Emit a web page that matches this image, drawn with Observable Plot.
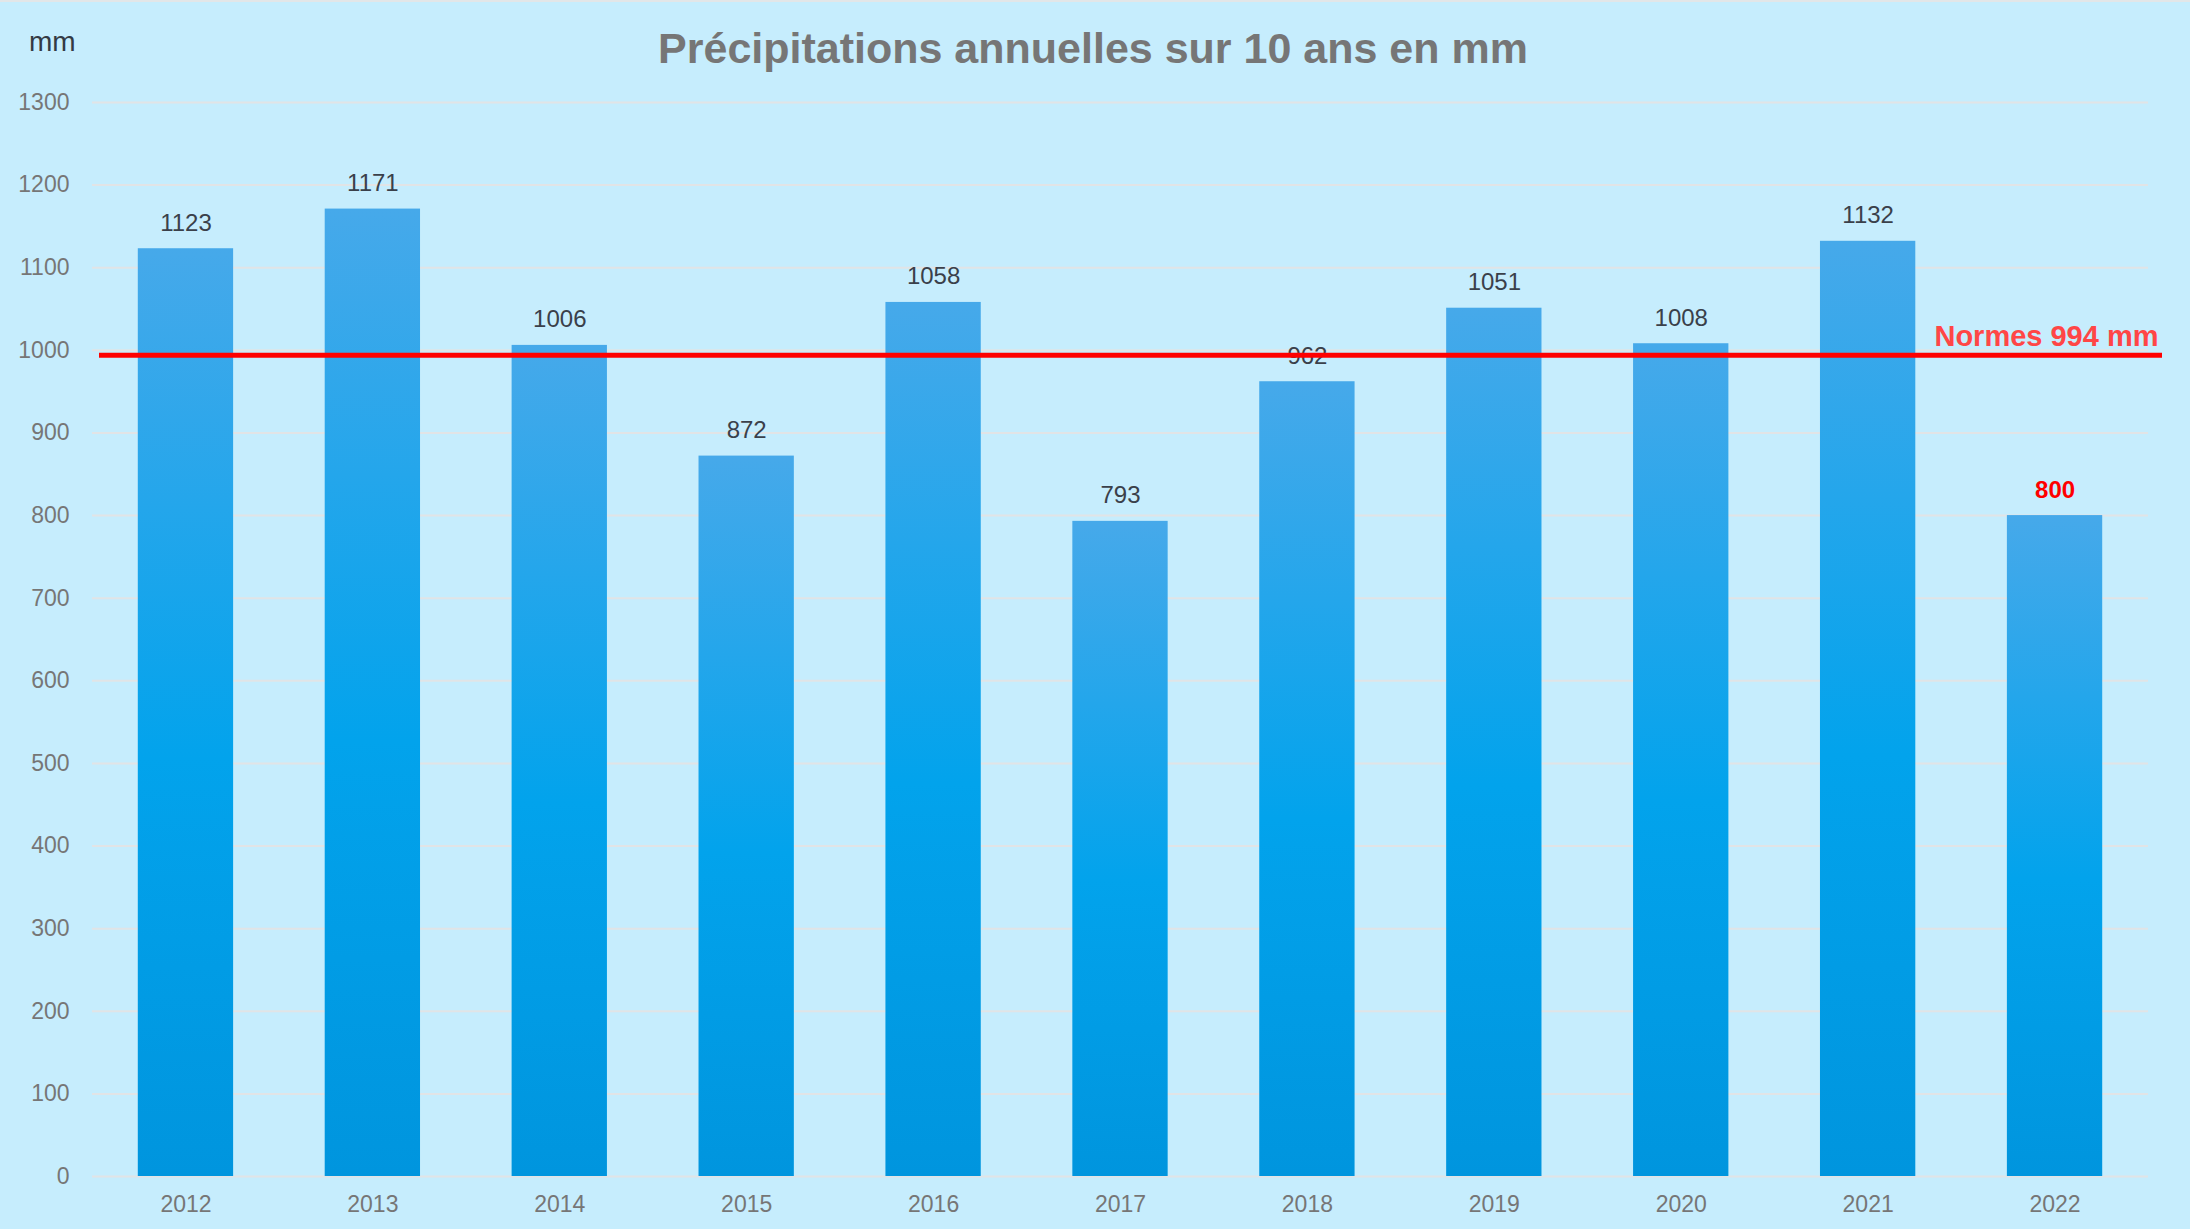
<!DOCTYPE html>
<html>
<head>
<meta charset="utf-8">
<script src="https://cdn.jsdelivr.net/npm/d3@7"></script>
<script src="https://cdn.jsdelivr.net/npm/@observablehq/plot@0.6"></script>
<style>
  html, body { margin: 0; padding: 0; background: #c6edfd; }
  #wrap { position: relative; width: 2190px; height: 1229px; background: #c6edfd; border-top: 2px solid #e2e6e8; box-sizing: border-box; overflow: hidden; font-family: "Liberation Sans", Arial, sans-serif; }
  #head { position: relative; height: 78px; }
  #title { position: absolute; left: 0; right: 0; top: 25px; text-align: center; padding-right: 4px; font-size: 43px; font-weight: bold; color: #767676; line-height: 1; }
  #unit { position: absolute; left: 29px; top: 26px; font-size: 28px; color: #333a44; line-height: 1; }
  svg { display: block; }
</style>
</head>
<body>
<div id="wrap">
  <div id="head">
    <div id="unit">mm</div>
    <div id="title">Précipitations annuelles sur 10 ans en mm</div>
  </div>
  <div id="chart"></div>
</div>
<script>
const years = ["2012","2013","2014","2015","2016","2017","2018","2019","2020","2021","2022"];
const rainfall = [1123, 1171, 1006, 872, 1058, 793, 962, 1051, 1008, 1132, 800];
const normValue = 994;
const normLabel = "Normes 994 mm";
const yTicks = [0,100,200,300,400,500,600,700,800,900,1000,1100,1200,1300];

const data = years.map((y, i) => ({year: y, value: rainfall[i], last: i === years.length - 1}));

const defs = () => {
  const ns = "http://www.w3.org/2000/svg";
  const d = document.createElementNS(ns, "defs");
  const g = document.createElementNS(ns, "linearGradient");
  g.setAttribute("id", "barGrad");
  g.setAttribute("x1", "0"); g.setAttribute("y1", "0");
  g.setAttribute("x2", "0"); g.setAttribute("y2", "1");
  [["0%", "#46a9ea"], ["55%", "#02a3ec"], ["100%", "#0095de"]].forEach(([o, c]) => {
    const s = document.createElementNS(ns, "stop");
    s.setAttribute("offset", o);
    s.setAttribute("stop-color", c);
    g.appendChild(s);
  });
  d.appendChild(g);
  return d;
};

const chart = Plot.plot({
  width: 2190,
  height: 1151,
  marginTop: 22,
  marginLeft: 92,
  marginRight: 42,
  marginBottom: 55,
  style: { background: "transparent", fontFamily: "Liberation Sans, Arial, sans-serif" },
  x: { domain: years, paddingInner: 0.49, paddingOuter: 0.245, round: false, label: null },
  y: { domain: [0, 1300], ticks: yTicks, label: null },
  marks: [
    defs,
    Plot.gridY(yTicks, { stroke: "#e1e4e6", strokeOpacity: 1, strokeWidth: 2 }),
    Plot.axisY(yTicks, { tickSize: 0, tickPadding: 23, fontSize: 23, fill: "#767676", label: null, tickFormat: d => String(d) }),
    Plot.axisX({ tickSize: 0, tickPadding: 19, fontSize: 23, fill: "#767676", label: null }),
    Plot.barY(data, { x: "year", y: "value", fill: "url(#barGrad)" }),
    Plot.text(data.filter(d => !d.last), { x: "year", y: "value", text: d => String(d.value), lineAnchor: "bottom", dy: -18, fontSize: 24, fill: "#3a404a" }),
    Plot.text(data.filter(d => d.last), { x: "year", y: "value", text: d => String(d.value), lineAnchor: "bottom", dy: -18, fontSize: 24, fontWeight: "bold", fill: "#ff0000" }),
    Plot.ruleY([normValue], { stroke: "#ff0000", strokeWidth: 5, insetLeft: 7, insetRight: -14 }),
    Plot.text([normValue], { y: d => d, frameAnchor: "right", text: () => normLabel, textAnchor: "end", lineAnchor: "bottom", dx: 10, dy: -9, fontSize: 29, fontWeight: "bold", fill: "#ff4646" })
  ]
});
document.getElementById("chart").appendChild(chart);
</script>
</body>
</html>
